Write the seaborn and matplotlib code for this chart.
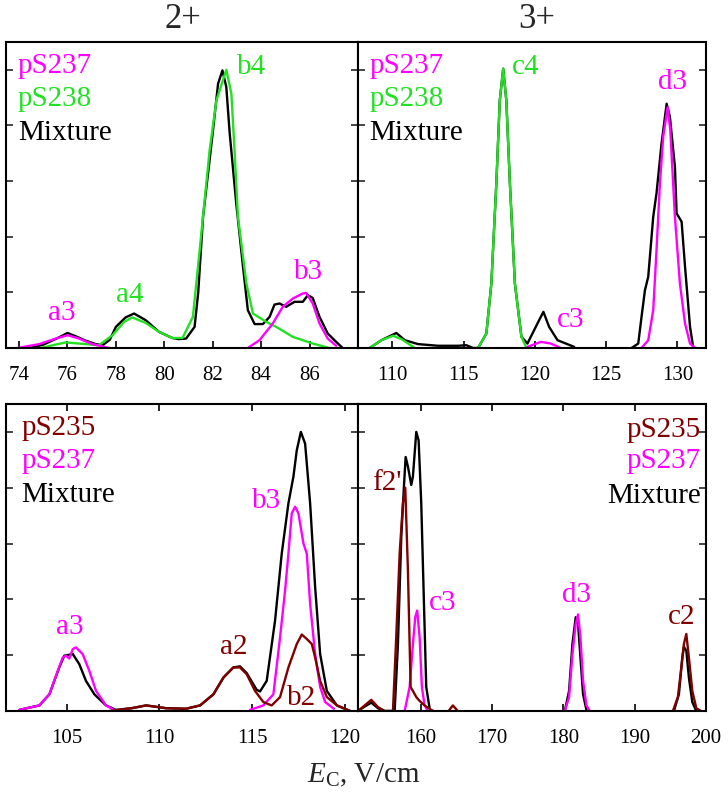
import numpy as np
import pandas as pd
import matplotlib
matplotlib.use("Agg")
import matplotlib.pyplot as plt
import seaborn as sns

sns.set_theme(style="white")
plt.rcParams['font.family'] = ['Liberation Serif', 'DejaVu Serif']
plt.rcParams['mathtext.fontset'] = 'custom'
plt.rcParams['mathtext.rm'] = 'Liberation Serif'
plt.rcParams['mathtext.it'] = 'Liberation Serif:italic'

MAG = "#FF00FF"
GRN = "#22E022"
BRN = "#800000"
BLK = "#000000"

# ---------------- data: top-left (2+) ----------------
tl_mix_x = [74.45, 75.0, 75.25, 75.6, 76.0, 76.4, 76.76, 77.17, 77.45, 77.75, 78.0, 78.4, 78.75, 79.23, 79.78,
            80.33, 80.6, 80.9, 81.25, 81.4, 81.6, 82.01, 82.22, 82.4, 82.56, 82.7, 82.97, 83.25, 83.45, 83.73,
            84.07, 84.35, 84.55, 84.76, 85.03, 85.38, 85.72, 85.93, 86.13, 86.41, 86.75, 87.1, 87.37]
tl_mix_y = [0, 0.06, 0.11, 0.18, 0.27, 0.2, 0.13, 0.07, 0.05, 0.15, 0.38, 0.55, 0.62, 0.50, 0.29,
            0.18, 0.16, 0.17, 0.38, 1.0, 2.36, 3.91, 4.75, 4.99, 4.69, 3.86, 2.6, 1.46, 0.68, 0.43,
            0.43, 0.56, 0.78, 0.80, 0.74, 0.83, 0.83, 0.95, 0.9, 0.56, 0.26, 0.11, 0]
tl_s238_x = [74.9, 75.5, 75.93, 76.48, 77.3, 77.86, 78.34, 78.68, 79.23, 79.78, 80.33, 80.75, 81.18, 81.46,
             81.87, 82.15, 82.56, 82.77, 82.9, 83.04, 83.39, 83.66, 84.21, 84.62, 85.31, 86.13, 86.82]
tl_s238_y = [0, 0.06, 0.1, 0.08, 0.05, 0.23, 0.47, 0.55, 0.45, 0.29, 0.18, 0.18, 0.56, 1.76,
             3.55, 4.45, 5.0, 4.57, 3.55, 2.36, 1.16, 0.62, 0.47, 0.38, 0.2, 0.08, 0]
tl_s237a_x = [73.94, 74.83, 75.52, 76.0, 76.48, 77.03, 77.72]
tl_s237a_y = [0, 0.07, 0.17, 0.23, 0.17, 0.07, 0]
tl_s237b_x = [83.45, 83.93, 84.48, 84.89, 85.31, 85.72, 85.86, 86.13, 86.41, 86.75, 87.1]
tl_s237b_y = [0, 0.14, 0.44, 0.74, 0.89, 0.98, 0.99, 0.8, 0.44, 0.17, 0.04]

# ---------------- data: top-right (3+) ----------------
tr_mix_a_x = [108.42, 109.24, 110.29, 110.88, 111.81, 113.21, 114.62, 115.2, 115.67, 116.02, 116.6, 116.95,
              117.3, 117.54, 117.78, 118.0, 118.25, 118.6, 119.06, 119.48, 120.3, 120.6, 121.0, 121.59, 122.76]
tr_mix_a_y = [0, 0.14, 0.27, 0.14, 0.07, 0.04, 0.04, 0.05, 0, 0, 0.26, 1.16,
              2.96, 4.45, 5.02, 4.45, 2.96, 1.16, 0.2, 0.08, 0.5, 0.65, 0.38, 0.14, 0.02]
tr_mix_b_x = [126.78, 127.25, 127.48, 127.72, 127.95, 128.3, 128.53, 128.88, 129.24, 129.47, 129.82,
              129.94, 130.29, 130.53, 130.88, 131.11]
tr_mix_b_y = [0, 0.08, 0.56, 1.04, 1.28, 2.36, 2.78, 3.67, 4.39, 4.15, 3.26, 2.42, 2.27, 1.46, 0.38, 0]
tr_s238a_x = [108.42, 109.24, 110.06, 110.64, 111.58]
tr_s238a_y = [0, 0.14, 0.22, 0.16, 0]
tr_s238b_x = [116.02, 116.6, 116.95, 117.3, 117.54, 117.78, 118.0, 118.25, 118.6, 119.06, 119.41]
tr_s238b_y = [0, 0.26, 1.16, 2.96, 4.45, 5.02, 4.45, 2.96, 1.16, 0.2, 0]
tr_s237a_x = [119.48, 120.42, 121.12, 121.82]
tr_s237a_y = [0.02, 0.11, 0.08, 0]
tr_s237b_x = [127.48, 127.95, 128.3, 128.53, 128.77, 129.0, 129.31, 129.5, 129.82, 130.17, 130.53, 130.88, 131.23]
tr_s237b_y = [0, 0.14, 0.68, 1.76, 2.96, 3.8, 4.33, 3.9, 2.36, 1.16, 0.44, 0.08, 0]

# ---------------- data: bottom-left (2+) ----------------
bl_mix_x = [102.45, 103.53, 104.07, 104.6, 104.87, 105.33, 105.68, 106.04, 106.49, 107.12, 107.66, 108.5,
            109.28, 110.36, 111.43, 112.19, 112.91, 113.45, 113.98, 114.34, 114.7, 115.24, 115.42, 115.78,
            116.23, 116.59, 116.95, 117.22, 117.4, 117.62, 117.85, 118.12, 118.39, 118.66, 119.02, 119.56, 120.28]
bl_mix_y = [0.02, 0.1, 0.3, 0.78, 0.99, 1.02, 0.84, 0.54, 0.3, 0.1, 0.02, 0.05,
            0.1, 0.05, 0.04, 0.1, 0.3, 0.6, 0.78, 0.8, 0.68, 0.38, 0.35, 0.54,
            1.62, 2.82, 3.72, 4.2, 4.67, 5.0, 4.79, 3.72, 2.22, 1.02, 0.36, 0.1, 0]
bl_s235_x = [107.3, 108.5, 109.28, 110.36, 111.43, 112.19, 112.91, 113.45, 113.98, 114.34, 114.7, 115.15,
             115.6, 116.05, 116.5, 116.95, 117.4, 117.67, 117.94, 118.21, 118.39, 118.66, 119.02, 119.56, 120.28]
bl_s235_y = [0, 0.05, 0.1, 0.05, 0.04, 0.1, 0.3, 0.6, 0.78, 0.78, 0.66, 0.36,
             0.16, 0.1, 0.25, 0.78, 1.2, 1.37, 1.29, 1.2, 0.96, 0.54, 0.25, 0.1, 0]
bl_s237a_x = [102.45, 103.53, 104.07, 104.52, 104.79, 104.96, 105.14, 105.33, 105.5, 105.86, 106.22,
              106.58, 107.12, 107.66]
bl_s237a_y = [0.02, 0.1, 0.3, 0.72, 0.96, 0.99, 0.94, 1.11, 1.14, 1.02, 0.72, 0.36, 0.1, 0]
bl_s237b_x = [114.88, 115.6, 116.14, 116.5, 116.77, 116.95, 117.13, 117.31, 117.49, 117.76, 117.94,
              118.12, 118.39, 118.66, 118.93, 119.4]
bl_s237b_y = [0.02, 0.1, 0.3, 1.32, 2.16, 2.82, 3.54, 3.66, 3.54, 3.0, 2.82, 1.92, 1.02, 0.43, 0.16, 0.04]

# ---------------- data: bottom-right (3+) ----------------
br_mix_a_x = [151.2, 152.14, 153.06, 154.0, 154.93, 156.34, 156.8, 157.27, 157.64, 157.88, 158.2, 158.67,
              158.9, 159.37, 159.7, 160.07, 160.45, 160.77, 161.24]
br_mix_a_y = [0, 0.08, 0.15, 0.05, 0, 0, 1.2, 3.12, 4.02, 4.55, 4.38, 4.05, 4.2, 5.0, 4.85, 3.72, 1.92, 0.43, 0.05]
br_mix_b_x = [180.2, 180.8, 181.27, 181.73, 182.06, 182.39, 182.76, 183.23]
br_mix_b_y = [0, 0.36, 1.2, 1.68, 1.56, 0.96, 0.3, 0.02]
br_mix_c_x = [195.5, 196.2, 196.68, 196.9, 197.24, 197.6, 198.08, 198.64]
br_mix_c_y = [0, 0.3, 0.96, 1.15, 1.08, 0.6, 0.16, 0]
br_s235a_x = [151.2, 152.14, 153.06, 154.0, 154.93, 156.1, 156.56, 157.04, 157.5, 157.83, 158.2, 158.58,
              158.9, 159.37, 159.84, 160.54, 161.47, 161.8]
br_s235a_y = [0, 0.1, 0.2, 0.07, 0, 0, 1.32, 2.82, 3.72, 4.0, 2.52, 0.43, 0.36, 0.25, 0.18, 0.1, 0.02, 0]
br_s235b_x = [163.9, 164.5, 165.2]
br_s235b_y = [0, 0.1, 0]
br_s235c_x = [195.36, 196.06, 196.54, 196.9, 197.24, 197.6, 198.08, 198.64, 199.3]
br_s235c_y = [0, 0.25, 0.78, 1.2, 1.38, 0.96, 0.36, 0.05, 0]
br_s237a_x = [157.74, 158.44, 158.9, 159.23, 159.5, 159.84, 160.16, 160.54, 161.0]
br_s237a_y = [0, 0.43, 1.2, 1.68, 1.8, 1.32, 0.43, 0.1, 0]
br_s237b_x = [180.2, 180.8, 181.27, 181.73, 182.06, 182.39, 182.76, 183.23, 183.7]
br_s237b_y = [0, 0.25, 1.02, 1.56, 1.73, 1.32, 0.54, 0.1, 0]

# tick labels / limits
tl_ticks = [74, 76, 78, 80, 82, 84, 86]
tr_ticks = [110, 115, 120, 125, 130]
bl_ticks = [105, 110, 115, 120]
br_ticks = [160, 170, 180, 190, 200]


def frame(segments):
    rows = []
    for name, seg, xs, ys in segments:
        for x, y in zip(xs, ys):
            rows.append((name, f"{name}_{seg}", x, y))
    return pd.DataFrame(rows, columns=["series", "seg", "x", "y"])


W, H = 728, 802
fig = plt.figure(figsize=(W / 100, H / 100), dpi=100)

def ax_at(l, t, r, b):
    return fig.add_axes([l / W, 1 - b / H, (r - l) / W, (b - t) / H])

ax_tl = ax_at(6, 42, 358, 348)
ax_tr = ax_at(358, 42, 706, 348)
ax_bl = ax_at(6, 404, 358, 711)
ax_br = ax_at(358, 404, 706, 711)

panels = [
    (ax_tl, frame([("Mixture", 0, tl_mix_x, tl_mix_y), ("pS238", 0, tl_s238_x, tl_s238_y),
                   ("pS237", 0, tl_s237a_x, tl_s237a_y), ("pS237", 1, tl_s237b_x, tl_s237b_y)]),
     ["Mixture", "pS238", "pS237"], (73.46, 88.0), tl_ticks, "bottom"),
    (ax_tr, frame([("Mixture", 0, tr_mix_a_x, tr_mix_a_y), ("Mixture", 1, tr_mix_b_x, tr_mix_b_y),
                   ("pS238", 0, tr_s238a_x, tr_s238a_y), ("pS238", 1, tr_s238b_x, tr_s238b_y),
                   ("pS237", 0, tr_s237a_x, tr_s237a_y), ("pS237", 1, tr_s237b_x, tr_s237b_y)]),
     ["Mixture", "pS238", "pS237"], (107.6, 132.0), tr_ticks, "bottom"),
    (ax_bl, frame([("Mixture", 0, bl_mix_x, bl_mix_y), ("pS235", 0, bl_s235_x, bl_s235_y),
                   ("pS237", 0, bl_s237a_x, bl_s237a_y), ("pS237", 1, bl_s237b_x, bl_s237b_y)]),
     ["Mixture", "pS237", "pS235"], (101.73, 120.7), bl_ticks, "both"),
    (ax_br, frame([("Mixture", 0, br_mix_a_x, br_mix_a_y), ("Mixture", 1, br_mix_b_x, br_mix_b_y),
                   ("Mixture", 2, br_mix_c_x, br_mix_c_y),
                   ("pS235", 0, br_s235a_x, br_s235a_y), ("pS235", 1, br_s235b_x, br_s235b_y),
                   ("pS235", 2, br_s235c_x, br_s235c_y),
                   ("pS237", 0, br_s237a_x, br_s237a_y), ("pS237", 1, br_s237b_x, br_s237b_y)]),
     ["Mixture", "pS237", "pS235"], (151.2, 200.0), br_ticks, "both"),
]

palette = {"Mixture": BLK, "pS237": MAG, "pS238": GRN, "pS235": BRN}

for ax, df, order, xlim, ticks, xt in panels:
    sns.lineplot(data=df, x="x", y="y", hue="series", units="seg", estimator=None, sort=False,
                 hue_order=order, palette=palette, legend=False, linewidth=1.7, ax=ax)
    ax.set_xlim(*xlim)
    ax.set_ylim(0, 5.5)
    ax.set_xticks(ticks)
    ax.set_xticklabels([str(t) for t in ticks], fontsize=15)
    ax.set_yticks([0, 1, 2, 3, 4, 5])
    ax.set_yticklabels([])
    ax.set_xlabel("")
    ax.set_ylabel("")
    ax.tick_params(axis="x", direction="in", length=5, width=1.2, pad=13,
                   top=(xt == "both"), bottom=True, colors="black")
    ax.tick_params(axis="y", direction="in", length=5, width=1.2, left=True, right=True)
    for sp in ax.spines.values():
        sp.set_visible(True)
        sp.set_color("black")
        sp.set_linewidth(1.5)
    ax.set_facecolor("white")

FS = 21
def legend_text(ax, names, colors, x, ha, ys):
    for n, c, y in zip(names, colors, ys):
        ax.text(x, y, n, color=c, fontsize=FS, ha=ha, va="baseline", transform=ax.transAxes)

legend_text(ax_tl, ["pS237", "pS238", "Mixture"], [MAG, GRN, BLK], 0.034, "left", [0.898, 0.791, 0.68])
legend_text(ax_tr, ["pS237", "pS238", "Mixture"], [MAG, GRN, BLK], 0.032, "left", [0.898, 0.791, 0.68])
legend_text(ax_bl, ["pS235", "pS237", "Mixture"], [BRN, MAG, BLK], 0.043, "left", [0.899, 0.79, 0.682])
legend_text(ax_br, ["pS235", "pS237", "Mixture"], [BRN, MAG, BLK], 0.985, "right", [0.893, 0.79, 0.677])

def lab(ax, x, y, s, c):
    ax.text(x, y, s, color=c, fontsize=FS, ha="center", va="center")

lab(ax_tl, 75.76, 0.63, "a3", MAG)
lab(ax_tl, 78.57, 0.95, "a4", GRN)
lab(ax_tl, 83.59, 5.05, "b4", GRN)
lab(ax_tl, 85.97, 1.37, "b3", MAG)
lab(ax_tr, 119.37, 5.05, "c4", GRN)
lab(ax_tr, 122.53, 0.5, "c3", MAG)
lab(ax_tr, 129.66, 4.78, "d3", MAG)
lab(ax_bl, 105.18, 1.51, "a3", MAG)
lab(ax_bl, 113.98, 1.15, "a2", BRN)
lab(ax_bl, 115.78, 3.77, "b3", MAG)
lab(ax_bl, 117.67, 0.23, "b2", BRN)
lab(ax_br, 155.3, 4.09, "f2'", BRN)
lab(ax_br, 163.0, 1.93, "c3", MAG)
lab(ax_br, 181.9, 2.08, "d3", MAG)
lab(ax_br, 196.6, 1.69, "c2", BRN)

fig.text(183 / W, 1 - 20 / H, "2+", fontsize=25, ha="center", va="center")
fig.text(537 / W, 1 - 20 / H, "3+", fontsize=25, ha="center", va="center")
fig.text(364 / W, 1 - 775 / H, r"$E_{\mathrm{C}}$, V/cm", fontsize=21, ha="center", va="center")

fig.savefig("out.png", dpi=100, facecolor="white")
